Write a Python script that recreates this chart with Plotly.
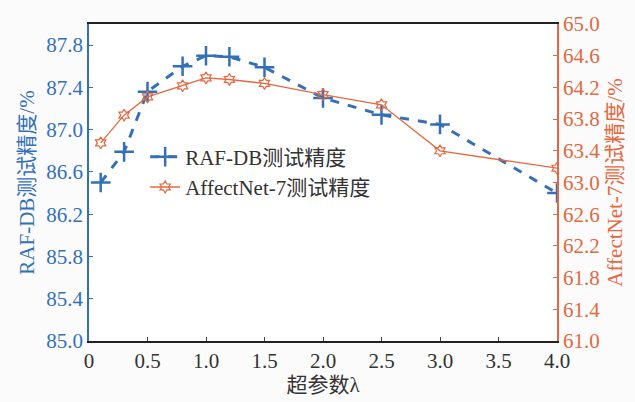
import plotly.graph_objects as go

lam = [0.1, 0.3, 0.5, 0.8, 1.0, 1.2, 1.5, 2.0, 2.5, 3.0, 4.0]
raf_db = [86.5, 86.79, 87.36, 87.6, 87.7, 87.69, 87.59, 87.3, 87.14, 87.05, 86.4]
affectnet = [63.5, 63.85, 64.08, 64.22, 64.32, 64.3, 64.25, 64.11, 63.98, 63.4, 63.18]

x_ticks = [0, 0.5, 1.0, 1.5, 2.0, 2.5, 3.0, 3.5, 4.0]
x_labels = ["0", "0.5", "1.0", "1.5", "2.0", "2.5", "3.0", "3.5", "4.0"]
left_ticks = [85.0, 85.4, 85.8, 86.2, 86.6, 87.0, 87.4, 87.8]
right_ticks = [61.0, 61.4, 61.8, 62.2, 62.6, 63.0, 63.4, 63.8, 64.2, 64.6, 65.0]

BLUE = "#3470b8"
ORANGE = "#e4683f"
FONT = "Liberation Serif, Noto Sans CJK SC"
FS = 21

fig = go.Figure()
fig.add_trace(go.Scatter(
    x=lam, y=raf_db, name="RAF-DB测试精度", mode="lines+markers",
    line=dict(color=BLUE, width=3, dash="dash"),
    marker=dict(symbol="cross-thin", size=14, line=dict(color=BLUE, width=2.5)),
))
fig.add_trace(go.Scatter(
    x=lam, y=affectnet, name="AffectNet-7测试精度", mode="lines+markers", yaxis="y2",
    line=dict(color=ORANGE, width=1.3),
    marker=dict(symbol="hexagram-open", size=9, color=ORANGE, line=dict(color=ORANGE, width=1.2)),
))

fig.update_layout(
    width=635, height=402,
    margin=dict(l=89, r=76, t=21, b=60),
    paper_bgcolor="#fbfbfb", plot_bgcolor="white",
    font=dict(family=FONT, size=FS, color="#333333"),
    showlegend=True,
    legend=dict(x=0.12, y=0.645, xanchor="left", yanchor="top", bgcolor="rgba(0,0,0,0)",
                font=dict(size=FS, color="#333333"), tracegroupgap=0, itemwidth=30),
    xaxis=dict(range=[0, 4], tickvals=x_ticks, ticktext=x_labels, showgrid=False, zeroline=False,
               showline=True, linecolor="#222222", linewidth=1.5, mirror=True,
               ticks="inside", ticklen=4, tickcolor="#444444",
               tickfont=dict(size=FS, color="#333333"),
               title=dict(text="超参数λ", font=dict(size=FS, color="#333333"), standoff=2)),
    yaxis=dict(range=[85, 88], tickvals=left_ticks, ticktext=[f"{v:.1f}" for v in left_ticks],
               showgrid=False, zeroline=False, showline=True, linecolor=BLUE, linewidth=1.5,
               ticks="inside", ticklen=4, tickcolor=BLUE,
               tickfont=dict(size=FS, color=BLUE),
               title=dict(text="RAF-DB测试精度/%", font=dict(size=FS, color=BLUE), standoff=6)),
    yaxis2=dict(range=[61, 65], tickvals=right_ticks, ticktext=[f"{v:.1f}" for v in right_ticks],
                overlaying="y", side="right", showgrid=False, zeroline=False,
                showline=True, linecolor=ORANGE, linewidth=1.5,
                ticks="inside", ticklen=4, tickcolor=ORANGE,
                tickfont=dict(size=FS, color=ORANGE),
                title=dict(text="AffectNet-7测试精度/%", font=dict(size=FS, color=ORANGE), standoff=8)),
)

fig.write_html("out.html")
